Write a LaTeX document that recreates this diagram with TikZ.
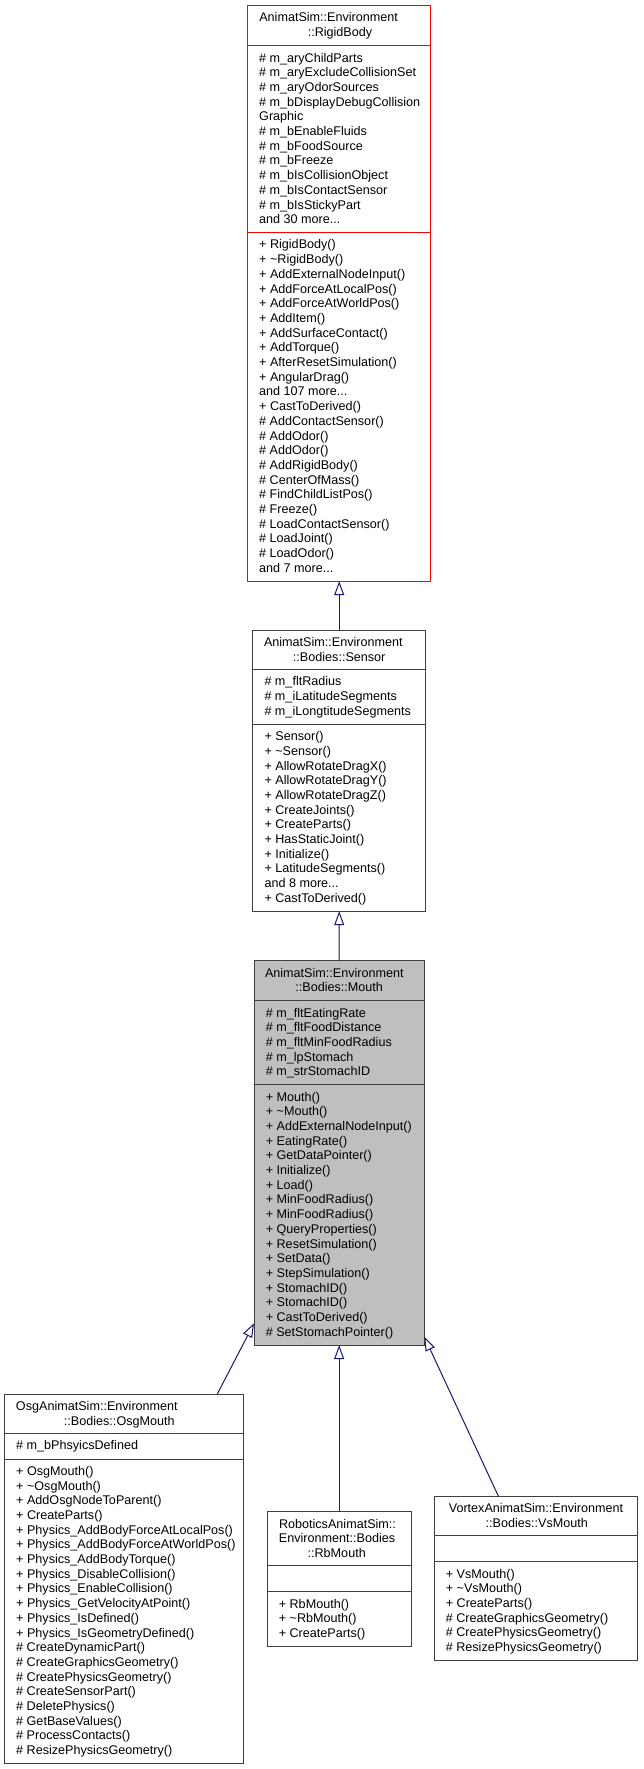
\documentclass[tikz,border=0pt]{standalone}
\usepackage{fontspec}
\setmainfont{Liberation Sans}
\usetikzlibrary{arrows.meta}
\definecolor{edgeblue}{HTML}{191970}
\definecolor{boxgray}{HTML}{BFBFBF}
\definecolor{boxline}{HTML}{404040}
\definecolor{boxred}{HTML}{FF0000}
\newcommand\fs{\rule{0pt}{11pt}}
\newcommand\tld{\textasciitilde}
\begin{document}
\begin{tikzpicture}[x=1pt,y=-1pt,
  classbox/.style={draw=boxline, line width=1pt, inner sep=0pt, outer sep=0pt, anchor=north west, fill=white},
  redbox/.style={classbox, draw=boxred},
  graybox/.style={classbox, fill=boxgray},
  divider/.style={draw=boxline, line width=1pt},
  reddivider/.style={draw=boxred, line width=1pt},
  txt/.style={inner sep=0pt, outer sep=0pt, align=left, anchor=north west, font=\fontsize{12.6}{14.7}\selectfont, text=black},
  ttl/.style={inner sep=0pt, outer sep=0pt, anchor=base, font=\fontsize{12.6}{14.7}\selectfont, text=black},
  ttlw/.style={ttl, anchor=base west},
  inherit/.style={draw=edgeblue, line width=1pt, -{Triangle[open, length=14pt, width=10pt]}},
]
\useasboundingbox[fill=white] (0,0) rectangle (643,1769);

% ---------------- RigidBody ----------------
\node[redbox, minimum width=183pt, minimum height=575.5pt] (rigid) at (247.7,5.7) {};
\draw[reddivider] (247.7,45.7) -- (430.7,45.7);
\draw[reddivider] (247.7,232.6) -- (430.7,232.6);
\node[ttlw] (rigidT1) at (259.3,22.0) {AnimatSim::Environment};
\node[ttl] (rigidT2) at (340,36.7) {::RigidBody};
\node[txt] (rigidA) at (259.2,51.0) {\fs\# m\_aryChildParts\\
\# m\_aryExcludeCollisionSet\\
\# m\_aryOdorSources\\
\# m\_bDisplayDebugCollision\\
Graphic\\
\# m\_bEnableFluids\\
\# m\_bFoodSource\\
\# m\_bFreeze\\
\# m\_bIsCollisionObject\\
\# m\_bIsContactSensor\\
\# m\_bIsStickyPart\\
and 30 more...};
\node[txt] (rigidM) at (259.2,237.9) {\fs+ RigidBody()\\
+ \tld RigidBody()\\
+ AddExternalNodeInput()\\
+ AddForceAtLocalPos()\\
+ AddForceAtWorldPos()\\
+ AddItem()\\
+ AddSurfaceContact()\\
+ AddTorque()\\
+ AfterResetSimulation()\\
+ AngularDrag()\\
and 107 more...\\
+ CastToDerived()\\
\# AddContactSensor()\\
\# AddOdor()\\
\# AddOdor()\\
\# AddRigidBody()\\
\# CenterOfMass()\\
\# FindChildListPos()\\
\# Freeze()\\
\# LoadContactSensor()\\
\# LoadJoint()\\
\# LoadOdor()\\
and 7 more...};

% ---------------- Sensor ----------------
\node[classbox, minimum width=173pt, minimum height=281.2pt] (sensor) at (252.7,630) {};
\draw[divider] (252.7,669.3) -- (425.7,669.3);
\draw[divider] (252.7,724.3) -- (425.7,724.3);
\node[ttlw] (sensorT1) at (264.0,646.3) {AnimatSim::Environment};
\node[ttl] (sensorT2) at (339.2,661.0) {::Bodies::Sensor};
\node[txt] (sensorA) at (264.5,674.6) {\fs\# m\_fltRadius\\
\# m\_iLatitudeSegments\\
\# m\_iLongtitudeSegments};
\node[txt] (sensorM) at (264.5,729.6) {\fs+ Sensor()\\
+ \tld Sensor()\\
+ AllowRotateDragX()\\
+ AllowRotateDragY()\\
+ AllowRotateDragZ()\\
+ CreateJoints()\\
+ CreateParts()\\
+ HasStaticJoint()\\
+ Initialize()\\
+ LatitudeSegments()\\
and 8 more...\\
+ CastToDerived()};

% ---------------- Mouth ----------------
\node[graybox, minimum width=170.3pt, minimum height=384.4pt] (mouth) at (254,960.7) {};
\draw[divider] (254,1000.7) -- (424.3,1000.7);
\draw[divider] (254,1084.7) -- (424.3,1084.7);
\node[ttlw] (mouthT1) at (265.0,977.0) {AnimatSim::Environment};
\node[ttl] (mouthT2) at (339.2,991.7) {::Bodies::Mouth};
\node[txt] (mouthA) at (265.8,1006.0) {\fs\# m\_fltEatingRate\\
\# m\_fltFoodDistance\\
\# m\_fltMinFoodRadius\\
\# m\_lpStomach\\
\# m\_strStomachID};
\node[txt] (mouthM) at (265.8,1090.0) {\fs+ Mouth()\\
+ \tld Mouth()\\
+ AddExternalNodeInput()\\
+ EatingRate()\\
+ GetDataPointer()\\
+ Initialize()\\
+ Load()\\
+ MinFoodRadius()\\
+ MinFoodRadius()\\
+ QueryProperties()\\
+ ResetSimulation()\\
+ SetData()\\
+ StepSimulation()\\
+ StomachID()\\
+ StomachID()\\
+ CastToDerived()\\
\# SetStomachPointer()};

% ---------------- OsgMouth ----------------
\node[classbox, minimum width=239pt, minimum height=369.5pt] (osg) at (4.7,1394) {};
\draw[divider] (4.7,1433.3) -- (243.7,1433.3);
\draw[divider] (4.7,1459) -- (243.7,1459);
\node[ttlw] (osgT1) at (16.0,1410.3) {OsgAnimatSim::Environment};
\node[ttl] (osgT2) at (119.3,1425.0) {::Bodies::OsgMouth};
\node[txt] (osgA) at (16.2,1438.6) {\fs\# m\_bPhsyicsDefined};
\node[txt] (osgM) at (16.2,1464.3) {\fs+ OsgMouth()\\
+ \tld OsgMouth()\\
+ AddOsgNodeToParent()\\
+ CreateParts()\\
+ Physics\_AddBodyForceAtLocalPos()\\
+ Physics\_AddBodyForceAtWorldPos()\\
+ Physics\_AddBodyTorque()\\
+ Physics\_DisableCollision()\\
+ Physics\_EnableCollision()\\
+ Physics\_GetVelocityAtPoint()\\
+ Physics\_IsDefined()\\
+ Physics\_IsGeometryDefined()\\
\# CreateDynamicPart()\\
\# CreateGraphicsGeometry()\\
\# CreatePhysicsGeometry()\\
\# CreateSensorPart()\\
\# DeletePhysics()\\
\# GetBaseValues()\\
\# ProcessContacts()\\
\# ResizePhysicsGeometry()};

% ---------------- RbMouth ----------------
\node[classbox, minimum width=143.7pt, minimum height=134.6pt] (rb) at (267.3,1511.7) {};
\draw[divider] (267.3,1565) -- (411,1565);
\draw[divider] (267.3,1591.7) -- (411,1591.7);
\node[ttl] (rbT1) at (337.5,1528.0) {RoboticsAnimatSim::};
\node[ttl] (rbT2) at (337.0,1542.7) {Environment::Bodies};
\node[ttl] (rbT3) at (336.7,1557.4) {::RbMouth};
\node[txt] (rbM) at (278.8,1597.0) {\fs+ RbMouth()\\
+ \tld RbMouth()\\
+ CreateParts()};

% ---------------- VsMouth ----------------
\node[classbox, minimum width=203.4pt, minimum height=164.4pt] (vs) at (434.3,1496) {};
\draw[divider] (434.3,1535) -- (637.7,1535);
\draw[divider] (434.3,1561.7) -- (637.7,1561.7);
\node[ttl] (vsT1) at (536.0,1512.3) {VortexAnimatSim::Environment};
\node[ttl] (vsT2) at (536.8,1527.0) {::Bodies::VsMouth};
\node[txt] (vsM) at (445.8,1567.0) {\fs+ VsMouth()\\
+ \tld VsMouth()\\
+ CreateParts()\\
\# CreateGraphicsGeometry()\\
\# CreatePhysicsGeometry()\\
\# ResizePhysicsGeometry()};

% ---------------- inheritance ----------------
\draw[inherit] (sensor.north) -- (rigid.south);
\draw[inherit] (mouth.north) -- (sensor.south);
\draw[inherit] (rb.north) -- (mouth.south);
\draw[inherit] ([xshift=93.1pt]osg.north) -- ([yshift=21.8pt]mouth.south west);
\draw[inherit] ([xshift=-37.7pt]vs.north) -- ([yshift=8.4pt]mouth.south east);
\end{tikzpicture}
\end{document}
